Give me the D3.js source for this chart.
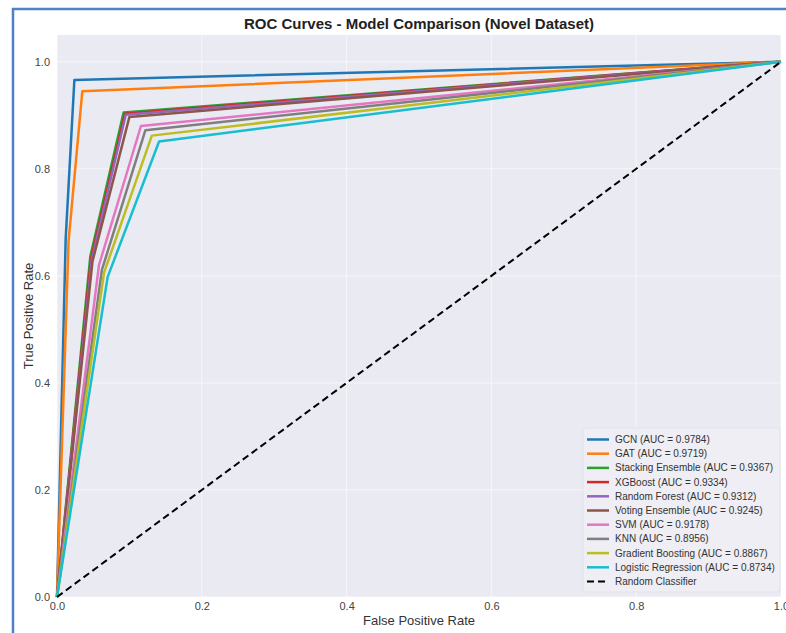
<!DOCTYPE html>
<html>
<head>
<meta charset="utf-8">
<script src="https://cdn.jsdelivr.net/npm/d3@7"></script>
<style>
  body { margin: 0; background: #fff; font-family: "Liberation Sans", Arial, sans-serif; }
  svg text { fill: #333; }
</style>
</head>
<body>
<div id="chart"></div>
<script>
// model names and AUC values as in the legend
const models = ["GCN", "GAT", "Stacking Ensemble", "XGBoost", "Random Forest",
  "Voting Ensemble", "SVM", "KNN", "Gradient Boosting", "Logistic Regression"];
const auc = [0.9784, 0.9719, 0.9367, 0.9334, 0.9312, 0.9245, 0.9178, 0.8956, 0.8867, 0.8734];
const colors = ["#1f77b4", "#ff7f0e", "#2ca02c", "#d62728", "#9467bd",
  "#8c564b", "#e377c2", "#7f7f7f", "#bcbd22", "#17becf"];

// ROC points (fpr, tpr per model)
const fpr = [
  [0, 0.012, 0.024, 1],
  [0, 0.016, 0.035, 1],
  [0, 0.046, 0.092, 1],
  [0, 0.047, 0.094, 1],
  [0, 0.048, 0.095, 1],
  [0, 0.049, 0.100, 1],
  [0, 0.058, 0.116, 1],
  [0, 0.062, 0.122, 1],
  [0, 0.065, 0.131, 1],
  [0, 0.070, 0.141, 1]
];
const tpr = [
  [0, 0.670, 0.966, 1],
  [0, 0.665, 0.945, 1],
  [0, 0.636, 0.905, 1],
  [0, 0.632, 0.903, 1],
  [0, 0.630, 0.901, 1],
  [0, 0.627, 0.897, 1],
  [0, 0.620, 0.880, 1],
  [0, 0.611, 0.872, 1],
  [0, 0.606, 0.862, 1],
  [0, 0.598, 0.851, 1]
];
const diagonal = [[0, 0], [1, 1]];
const ticks = [0, 0.2, 0.4, 0.6, 0.8, 1.0];

const W = 786, H = 633;
const margin = { top: 35, right: 5, bottom: 36, left: 57 };
const width = 781 - margin.left;
const height = 597 - margin.top;

const svg = d3.select("#chart").append("svg")
  .attr("width", W)
  .attr("height", H);

// blue frame of the screenshot
svg.append("path")
  .attr("d", `M13,${H} L13,9 L${W},9`)
  .attr("fill", "none")
  .attr("stroke", "#4f81c7")
  .attr("stroke-width", 2.5);

const g = svg.append("g")
  .attr("transform", `translate(${margin.left},${margin.top})`);

const x = d3.scaleLinear().domain([0, 1]).range([0, width]);
const y = d3.scaleLinear().domain([0, 1.05]).range([height, 0]);

g.append("rect")
  .attr("width", width)
  .attr("height", height)
  .attr("fill", "#eaeaf2");

// grid
g.selectAll(".gx").data(ticks).enter().append("line")
  .attr("x1", d => x(d)).attr("x2", d => x(d))
  .attr("y1", 0).attr("y2", height)
  .attr("stroke", "#fff").attr("stroke-opacity", 0.6);
g.selectAll(".gy").data(ticks).enter().append("line")
  .attr("x1", 0).attr("x2", width)
  .attr("y1", d => y(d)).attr("y2", d => y(d))
  .attr("stroke", "#fff").attr("stroke-opacity", 0.6);

// axes
const xAxis = d3.axisBottom(x).tickValues(ticks).tickFormat(d3.format(".1f")).tickSize(0).tickPadding(5);
const yAxis = d3.axisLeft(y).tickValues(ticks).tickFormat(d3.format(".1f")).tickSize(0).tickPadding(7);

g.append("g")
  .attr("transform", `translate(0,${height})`)
  .call(xAxis)
  .call(a => a.select(".domain").remove())
  .selectAll("text").attr("font-size", 11).style("fill", "#444");

g.append("g")
  .call(yAxis)
  .call(a => a.select(".domain").remove())
  .selectAll("text").attr("font-size", 11).style("fill", "#444");

// curves
const line = d3.line()
  .x(d => x(d[0]))
  .y(d => y(d[1]));

models.forEach((m, i) => {
  const pts = fpr[i].map((f, j) => [f, tpr[i][j]]);
  g.append("path")
    .datum(pts)
    .attr("d", line)
    .attr("fill", "none")
    .attr("stroke", colors[i])
    .attr("stroke-width", 2.5)
    .attr("stroke-linejoin", "round");
});

g.append("path")
  .datum(diagonal)
  .attr("d", line)
  .attr("fill", "none")
  .attr("stroke", "#000")
  .attr("stroke-width", 2)
  .attr("stroke-dasharray", "7,4");

// title and labels
svg.append("text")
  .attr("x", 419).attr("y", 29)
  .attr("text-anchor", "middle")
  .attr("font-size", 15)
  .attr("font-weight", "bold")
  .style("fill", "#222")
  .text("ROC Curves - Model Comparison (Novel Dataset)");

svg.append("text")
  .attr("x", margin.left + width / 2).attr("y", 625)
  .attr("text-anchor", "middle")
  .attr("font-size", 13)
  .text("False Positive Rate");

svg.append("text")
  .attr("transform", `translate(33,${margin.top + height / 2}) rotate(-90)`)
  .attr("text-anchor", "middle")
  .attr("font-size", 13)
  .text("True Positive Rate");

// legend
const lg = svg.append("g").attr("transform", "translate(583,428)");
lg.append("rect")
  .attr("width", 197).attr("height", 164)
  .attr("rx", 3)
  .attr("fill", "#eeeef4")
  .attr("stroke", "#e2e2ea");

const entries = models.map((m, i) => ({ label: `${m} (AUC = ${auc[i].toFixed(4)})`, color: colors[i], dash: null }));
entries.push({ label: "Random Classifier", color: "#000", dash: "7,4" });

entries.forEach((e, i) => {
  const yy = 11.5 + i * 14.2;
  lg.append("line")
    .attr("x1", 4).attr("x2", 26)
    .attr("y1", yy).attr("y2", yy)
    .attr("stroke", e.color)
    .attr("stroke-width", e.dash ? 2 : 2.5)
    .attr("stroke-dasharray", e.dash);
  lg.append("text")
    .attr("x", 32).attr("y", yy + 3.5)
    .attr("font-size", 10)
    .text(e.label);
});
</script>
</body>
</html>
